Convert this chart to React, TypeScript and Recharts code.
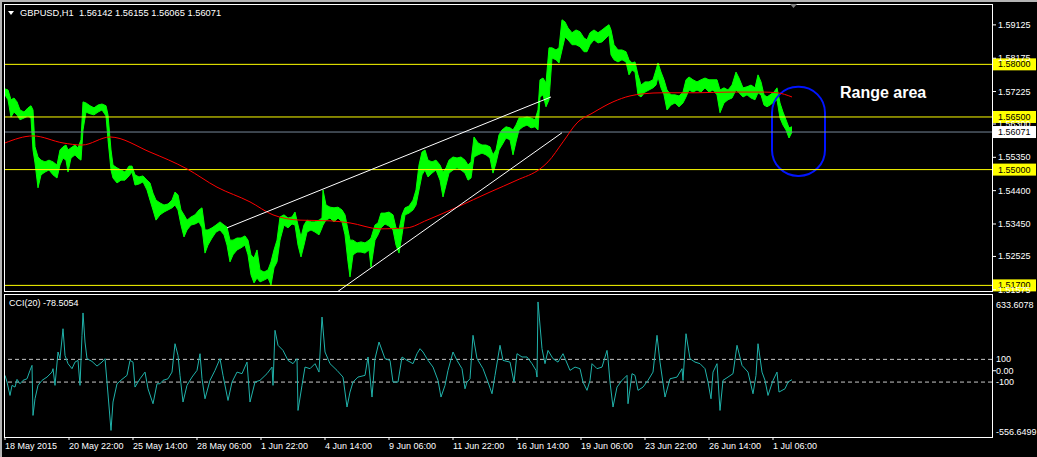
import React from 'react';
import { ComposedChart, Area, Line, XAxis, YAxis, ReferenceLine, ReferenceArea } from 'recharts';

const FONT = '"Liberation Sans", Arial, sans-serif';

const TITLE = 'GBPUSD,H1  1.56142 1.56155 1.56065 1.56071';
const CCI_TITLE = 'CCI(20) -78.5054';
const NOTE = 'Range area';

// one bar per hour, index 0 = 18 May 2015
const TIME_TICKS = [0, 64, 128, 192, 256, 320, 384, 448, 512, 576, 640, 704, 768];
const TIME_LABELS = [
  '18 May 2015', '20 May 22:00', '25 May 14:00', '28 May 06:00', '1 Jun 22:00', '4 Jun 14:00',
  '9 Jun 06:00', '11 Jun 22:00', '16 Jun 14:00', '19 Jun 06:00', '23 Jun 22:00', '26 Jun 14:00', '1 Jul 06:00',
];

const PRICE_TICKS = [1.59125, 1.58175, 1.57225, 1.563, 1.5535, 1.544, 1.5345, 1.52525, 1.51575];
const LEVELS = [1.58, 1.565, 1.55, 1.517];
const LAST_PRICE = 1.56071;

const CCI_TICKS = [633.6078, 100, 0, -100, -556.6499];
const CCI_LEVELS = [100, -100];

// [bar index, high, low]
const PRICE_BARS: [number, number, number][] = [
  [0, 1.5730, 1.5713], [3, 1.5727, 1.5699], [6, 1.5699, 1.5650], [9, 1.5704, 1.5664], [12, 1.5693, 1.5656],
  [15, 1.5670, 1.5642], [19, 1.5664, 1.5647], [23, 1.5676, 1.5653], [26, 1.5682, 1.5647], [28, 1.5670, 1.5556],
  [30, 1.5565, 1.5519], [33, 1.5536, 1.5448], [36, 1.5527, 1.5485], [40, 1.5522, 1.5493], [44, 1.5527, 1.5499],
  [48, 1.5522, 1.5485], [52, 1.5513, 1.5476], [55, 1.5556, 1.5513], [58, 1.5565, 1.5533], [61, 1.5570, 1.5527],
  [63, 1.5556, 1.5493], [66, 1.5562, 1.5533], [70, 1.5570, 1.5542], [73, 1.5562, 1.5533], [76, 1.5585, 1.5527],
  [78, 1.5693, 1.5613], [81, 1.5690, 1.5664], [85, 1.5682, 1.5659], [89, 1.5676, 1.5656], [93, 1.5684, 1.5664],
  [97, 1.5687, 1.5670], [101, 1.5682, 1.5653], [103, 1.5656, 1.5585], [106, 1.5556, 1.5499], [108, 1.5513, 1.5476],
  [112, 1.5505, 1.5462], [116, 1.5499, 1.5470], [120, 1.5493, 1.5470], [124, 1.5510, 1.5482], [127, 1.5510, 1.5493],
  [130, 1.5485, 1.5456], [134, 1.5479, 1.5459], [138, 1.5482, 1.5465], [142, 1.5470, 1.5442], [145, 1.5462, 1.5413],
  [148, 1.5433, 1.5385], [151, 1.5413, 1.5356], [155, 1.5405, 1.5371], [159, 1.5399, 1.5379], [163, 1.5402, 1.5385],
  [167, 1.5413, 1.5391], [170, 1.5436, 1.5399], [173, 1.5428, 1.5385], [176, 1.5385, 1.5342], [179, 1.5371, 1.5308],
  [182, 1.5356, 1.5328], [186, 1.5365, 1.5342], [190, 1.5371, 1.5345], [194, 1.5385, 1.5351], [197, 1.5391, 1.5334],
  [200, 1.5328, 1.5262], [203, 1.5328, 1.5285], [207, 1.5334, 1.5305], [211, 1.5342, 1.5322], [215, 1.5351, 1.5328],
  [219, 1.5342, 1.5314], [222, 1.5336, 1.5285], [225, 1.5299, 1.5237], [228, 1.5299, 1.5257], [232, 1.5305, 1.5271],
  [236, 1.5305, 1.5277], [240, 1.5311, 1.5285], [243, 1.5299, 1.5257], [246, 1.5257, 1.5200], [249, 1.5248, 1.5177],
  [252, 1.5271, 1.5191], [255, 1.5214, 1.5180], [259, 1.5208, 1.5185], [263, 1.5214, 1.5191], [266, 1.5237, 1.5171],
  [269, 1.5271, 1.5220], [272, 1.5299, 1.5237], [275, 1.5365, 1.5299], [279, 1.5371, 1.5342], [283, 1.5362, 1.5334],
  [287, 1.5365, 1.5345], [290, 1.5379, 1.5342], [293, 1.5342, 1.5285], [296, 1.5308, 1.5251], [299, 1.5342, 1.5285],
  [302, 1.5356, 1.5322], [306, 1.5351, 1.5328], [310, 1.5351, 1.5322], [314, 1.5356, 1.5314], [317, 1.5362, 1.5334],
  [318, 1.5442, 1.5342], [321, 1.5399, 1.5356], [325, 1.5393, 1.5362], [329, 1.5391, 1.5351], [333, 1.5393, 1.5362],
  [337, 1.5385, 1.5351], [340, 1.5371, 1.5314], [343, 1.5328, 1.5237], [345, 1.5299, 1.5194], [348, 1.5299, 1.5257],
  [352, 1.5291, 1.5265], [356, 1.5294, 1.5265], [360, 1.5291, 1.5262], [364, 1.5299, 1.5271], [366, 1.5305, 1.5222],
  [370, 1.5342, 1.5299], [373, 1.5348, 1.5314], [376, 1.5376, 1.5334], [380, 1.5376, 1.5345], [384, 1.5379, 1.5339],
  [388, 1.5371, 1.5328], [391, 1.5334, 1.5285], [394, 1.5328, 1.5262], [397, 1.5371, 1.5314], [400, 1.5391, 1.5371],
  [404, 1.5396, 1.5376], [408, 1.5413, 1.5385], [411, 1.5442, 1.5399], [414, 1.5513, 1.5442], [417, 1.5550, 1.5485],
  [420, 1.5556, 1.5499], [423, 1.5527, 1.5479], [427, 1.5522, 1.5490], [431, 1.5527, 1.5499], [435, 1.5513, 1.5470],
  [438, 1.5493, 1.5422], [441, 1.5505, 1.5456], [444, 1.5527, 1.5490], [448, 1.5536, 1.5499], [452, 1.5533, 1.5505],
  [456, 1.5536, 1.5499], [460, 1.5527, 1.5490], [463, 1.5513, 1.5470], [466, 1.5522, 1.5476], [469, 1.5593, 1.5536],
  [473, 1.5576, 1.5542], [477, 1.5570, 1.5547], [481, 1.5570, 1.5542], [485, 1.5565, 1.5533], [488, 1.5542, 1.5490],
  [491, 1.5556, 1.5519], [494, 1.5599, 1.5556], [497, 1.5613, 1.5570], [501, 1.5622, 1.5590], [505, 1.5619, 1.5585],
  [508, 1.5613, 1.5542], [511, 1.5627, 1.5579], [514, 1.5647, 1.5613], [518, 1.5647, 1.5622], [522, 1.5650, 1.5627],
  [526, 1.5647, 1.5619], [530, 1.5642, 1.5622], [533, 1.5670, 1.5613], [535, 1.5756, 1.5707], [538, 1.5761, 1.5713],
  [541, 1.5747, 1.5679], [544, 1.5847, 1.5699], [547, 1.5847, 1.5818], [551, 1.5841, 1.5813], [554, 1.5847, 1.5804],
  [557, 1.5927, 1.5841], [560, 1.5921, 1.5878], [563, 1.5904, 1.5870], [567, 1.5890, 1.5856], [571, 1.5898, 1.5856],
  [575, 1.5893, 1.5850], [579, 1.5875, 1.5836], [582, 1.5870, 1.5836], [585, 1.5890, 1.5856], [589, 1.5898, 1.5870],
  [593, 1.5890, 1.5861], [597, 1.5898, 1.5864], [601, 1.5907, 1.5875], [604, 1.5913, 1.5884], [606, 1.5898, 1.5827],
  [609, 1.5856, 1.5813], [613, 1.5841, 1.5807], [617, 1.5841, 1.5813], [621, 1.5836, 1.5807], [624, 1.5813, 1.5770],
  [627, 1.5804, 1.5784], [630, 1.5807, 1.5778], [633, 1.5770, 1.5713], [636, 1.5741, 1.5707], [640, 1.5750, 1.5721],
  [644, 1.5750, 1.5727], [648, 1.5756, 1.5733], [651, 1.5784, 1.5741], [653, 1.5804, 1.5764], [656, 1.5778, 1.5733],
  [659, 1.5756, 1.5713], [662, 1.5727, 1.5670], [666, 1.5713, 1.5684], [670, 1.5713, 1.5690], [674, 1.5710, 1.5679],
  [678, 1.5721, 1.5690], [681, 1.5756, 1.5707], [684, 1.5764, 1.5727], [688, 1.5756, 1.5721], [692, 1.5750, 1.5727],
  [696, 1.5756, 1.5721], [700, 1.5761, 1.5733], [704, 1.5756, 1.5721], [708, 1.5756, 1.5727], [712, 1.5756, 1.5713],
  [715, 1.5727, 1.5662], [719, 1.5733, 1.5690], [723, 1.5727, 1.5699], [727, 1.5741, 1.5704], [731, 1.5778, 1.5727],
  [734, 1.5761, 1.5719], [738, 1.5733, 1.5707], [742, 1.5736, 1.5713], [746, 1.5741, 1.5704], [750, 1.5733, 1.5699],
  [753, 1.5770, 1.5719], [756, 1.5750, 1.5713], [759, 1.5713, 1.5684], [762, 1.5707, 1.5679], [765, 1.5713, 1.5684],
  [769, 1.5721, 1.5693], [772, 1.5733, 1.5699], [775, 1.5690, 1.5647], [778, 1.5664, 1.5627], [781, 1.5642, 1.5613],
  [784, 1.5619, 1.5590], [787, 1.5622, 1.5607],
];

// moving average (red)
const MA_POINTS: [number, number][] = [
  [0, 1.5576], [28, 1.5596], [58, 1.5576], [77, 1.5570], [105, 1.5593], [145, 1.5550], [182, 1.5502],
  [212, 1.5450], [245, 1.5408], [268, 1.5371], [295, 1.5356], [325, 1.5354], [345, 1.5348], [375, 1.5331],
  [402, 1.5334], [422, 1.5356], [452, 1.5393], [485, 1.5436], [512, 1.5470], [535, 1.5502], [543, 1.5522],
  [558, 1.5579], [572, 1.5633], [588, 1.5662], [608, 1.5693], [625, 1.5710], [638, 1.5716], [658, 1.5719],
  [692, 1.5719], [725, 1.5721], [758, 1.5721], [772, 1.5719], [787, 1.5707],
];

// trend lines: [index, price] start and end
const UPPER_TREND: [number, number][] = [[222, 1.5334], [546, 1.5707]];
const LOWER_TREND: [number, number][] = [[332, 1.5151], [557, 1.5605]];
// marked range box: index from/to, price from/to
const RANGE_BOX = { x1: 767, x2: 820, y1: 1.5482, y2: 1.5736 };

const CCI_POINTS: [number, number][] = [
  [0, -41], [2, -100], [5, -218], [7, -129], [10, -144], [12, -76], [15, -115], [18, -85], [22, -71], [25, 3],
  [27, 47], [28, -394], [30, -247], [33, -129], [37, -85], [42, -56], [47, -12], [48, 18], [50, -129], [53, 165],
  [55, 106], [58, 370], [60, 135], [63, 62], [67, 18], [70, 76], [73, 91], [75, -129], [77, 312], [78, 509],
  [80, 253], [82, 106], [87, 82], [92, 41], [97, 76], [100, 106], [102, -100], [106, -526], [108, -276], [112, -115],
  [117, -76], [122, -41], [125, 91], [128, 76], [130, -144], [135, -71], [140, -12], [143, -159], [148, -291], [152, -115],
  [155, -115], [158, -85], [163, -71], [167, -12], [170, 238], [173, 135], [175, -41], [178, -276], [182, -129], [187, -56],
  [192, 3], [195, 150], [197, -71], [200, -247], [205, -85], [210, 3], [215, 106], [218, -41], [223, -262], [227, -100],
  [232, -12], [237, -26], [242, 76], [245, -276], [250, -100], [255, -85], [262, -26], [267, 32], [268, -129], [270, 356],
  [273, 224], [278, 179], [283, 91], [288, 62], [292, 106], [293, -350], [297, -129], [300, 32], [305, 18], [310, 62],
  [314, -12], [317, 473], [320, 165], [325, 62], [332, 3], [338, -56], [342, -320], [345, -188], [348, -100], [353, -56],
  [360, -41], [363, 121], [367, -232], [370, 106], [374, 253], [380, 106], [385, 91], [388, -100], [393, -100], [397, 121],
  [402, 91], [408, 62], [412, 150], [415, 194], [418, 165], [423, 91], [428, 32], [433, -85], [436, -232], [440, -129],
  [443, 3], [448, 165], [452, 91], [457, 18], [460, -159], [462, -100], [465, -71], [468, 312], [472, 106], [478, 18],
  [483, -100], [487, -203], [490, -41], [495, 224], [498, 91], [505, 76], [509, -100], [512, 150], [517, 121], [522, 121],
  [527, 62], [531, 3], [532, -56], [533, 606], [537, 194], [540, 62], [543, 179], [548, 106], [553, 76], [558, 150],
  [565, 3], [570, 32], [575, 18], [578, -100], [582, -173], [585, -85], [587, 62], [592, 18], [597, 32], [602, 179],
  [603, 106], [605, -100], [608, -320], [612, -144], [617, -85], [622, -41], [623, -291], [627, -26], [630, -41], [633, -173],
  [638, -144], [643, -85], [648, -12], [652, 312], [655, 76], [660, -232], [665, -71], [672, -56], [677, 18], [678, -85],
  [681, 326], [685, 106], [690, 76], [695, 62], [700, 18], [703, -100], [706, -247], [708, -12], [712, 62], [715, -350],
  [718, -85], [723, -56], [728, -26], [732, 224], [737, 47], [743, -12], [748, -203], [751, -41], [753, 238], [757, -12],
  [760, -85], [763, -218], [768, -85], [772, -12], [774, -188], [780, -159], [783, -100], [787, -78.5],
];

const X_DOMAIN = [-1, 987];
const PRICE_DOMAIN = [1.5154, 1.5972];
const CCI_DOMAIN = [-584, 676];

const priceRows = PRICE_BARS.map(([i, hi, lo]) => ({ i, range: [lo, hi] }));
const maRows = MA_POINTS.map(([i, v]) => ({ i, v }));
const cciRows = CCI_POINTS.map(([i, v]) => ({ i, v }));

const PriceTick = (props: any) => {
  const { x, y, payload } = props;
  return (
    <text x={x} y={y} dominantBaseline="central" fill="#fff" fontSize={9} fontFamily={FONT}>
      {Number(payload.value).toFixed(5)}
    </text>
  );
};

const CciTick = (props: any) => {
  const { x, y, payload } = props;
  const v = Number(payload.value);
  let txt = v.toFixed(0);
  if (v === 0) txt = '0.00';
  if (Math.abs(v) > 500) txt = v.toFixed(4);
  const dy = v > 500 ? 6 : v < -500 ? -2 : 0;
  return (
    <g>
      {v === 0 && <line x1={x - 6} x2={x - 2} y1={y} y2={y} stroke="#fff" />}
      <text x={x - 2} y={y + dy} dominantBaseline="central" fill="#fff" fontSize={9} fontFamily={FONT}>
        {txt}
      </text>
    </g>
  );
};

const TimeTick = (props: any) => {
  const { x, y, index } = props;
  return (
    <text x={x} y={y + 7} fill="#fff" fontSize={9} fontFamily={FONT}>
      {TIME_LABELS[index]}
    </text>
  );
};

const levelLabel = (value: number, bg: string) => (props: any) => {
  const vb = props.viewBox;
  const right = vb.x + vb.width;
  return (
    <g>
      <rect x={right + 1} y={vb.y - 6} width={43} height={12} fill={bg} />
      <text x={right + 6} y={vb.y} dominantBaseline="central" fill="#000" fontSize={9} fontFamily={FONT}>
        {value.toFixed(5)}
      </text>
    </g>
  );
};

const RoundBox = (props: any) => {
  const { x, y, width, height } = props;
  return <rect x={x} y={y} width={width} height={height} rx={26} ry={26} fill="none" stroke="#0014ff" strokeWidth={2} />;
};

export default function App() {
  return (
    <div style={{ position: 'absolute', left: 0, top: 0, width: 1037, height: 457, background: '#000', overflow: 'hidden' }}>
      {/* window frame */}
      <div style={{ position: 'absolute', left: 0, top: 0, width: 1037, height: 2, background: '#b4b4b4' }} />
      <div style={{ position: 'absolute', left: 0, top: 0, width: 2, height: 457, background: '#b4b4b4' }} />

      {/* price panel */}
      <div style={{ position: 'absolute', left: 0, top: 0 }}>
        <ComposedChart width={1037} height={300} margin={{ top: 4, right: 0, bottom: 9, left: 4 }}>
          <XAxis dataKey="i" type="number" domain={X_DOMAIN} allowDataOverflow hide />
          <YAxis
            orientation="right"
            width={45}
            type="number"
            domain={PRICE_DOMAIN}
            allowDataOverflow
            ticks={PRICE_TICKS}
            interval={0}
            axisLine={false}
            tickLine={{ stroke: '#fff' }}
            tickSize={4}
            tickMargin={2}
            tick={<PriceTick />}
          />
          {LEVELS.map((lv) => (
            <ReferenceLine key={lv} y={lv} stroke="#ffff00" strokeWidth={1} label={levelLabel(lv, '#ffff00')} />
          ))}
          <ReferenceLine y={LAST_PRICE} stroke="#778899" strokeWidth={1} label={levelLabel(LAST_PRICE, '#ffffff')} />
          <Area
            data={priceRows}
            dataKey="range"
            type="linear"
            stroke="#00ff00"
            strokeWidth={1}
            fill="#00ff00"
            fillOpacity={1}
            dot={false}
            activeDot={false}
            isAnimationActive={false}
          />
          <Line data={maRows} dataKey="v" type="monotone" stroke="#ff0000" strokeWidth={1} dot={false} activeDot={false} isAnimationActive={false} />
          <ReferenceLine
            segment={UPPER_TREND.map(([x, y]) => ({ x, y }))}
            stroke="#ffffff"
            strokeWidth={1}
            ifOverflow="hidden"
          />
          <ReferenceLine
            segment={LOWER_TREND.map(([x, y]) => ({ x, y }))}
            stroke="#ffffff"
            strokeWidth={1}
            ifOverflow="hidden"
          />
          <ReferenceArea
            x1={RANGE_BOX.x1}
            x2={RANGE_BOX.x2}
            y1={RANGE_BOX.y1}
            y2={RANGE_BOX.y2}
            ifOverflow="visible"
            shape={<RoundBox />}
          />
        </ComposedChart>
      </div>

      {/* indicator panel */}
      <div style={{ position: 'absolute', left: 0, top: 290 }}>
        <ComposedChart width={1037} height={167} margin={{ top: 4, right: 0, bottom: 0, left: 4 }}>
          <XAxis
            dataKey="i"
            type="number"
            domain={X_DOMAIN}
            allowDataOverflow
            ticks={TIME_TICKS}
            interval={0}
            height={20}
            axisLine={false}
            tickLine={{ stroke: '#fff' }}
            tickSize={3}
            tickMargin={2}
            tick={<TimeTick />}
          />
          <YAxis
            orientation="right"
            width={45}
            type="number"
            domain={CCI_DOMAIN}
            allowDataOverflow
            ticks={CCI_TICKS}
            interval={0}
            axisLine={false}
            tickLine={false}
            tickSize={4}
            tickMargin={2}
            tick={<CciTick />}
          />
          {CCI_LEVELS.map((lv) => (
            <ReferenceLine key={lv} y={lv} stroke="#c8c8c8" strokeDasharray="4 3" />
          ))}
          <Line data={cciRows} dataKey="v" type="linear" stroke="#20b2aa" strokeWidth={1} dot={false} activeDot={false} isAnimationActive={false} />
        </ComposedChart>
      </div>

      {/* panel borders */}
      <div style={{ position: 'absolute', left: 4, top: 4, width: 989, height: 288, border: '1px solid #fff', boxSizing: 'border-box', pointerEvents: 'none' }} />
      <div style={{ position: 'absolute', left: 4, top: 294, width: 989, height: 144, border: '1px solid #fff', boxSizing: 'border-box', pointerEvents: 'none' }} />

      {/* titles */}
      <svg style={{ position: 'absolute', left: 0, top: 0 }} width={1037} height={457} pointerEvents="none">
        <polygon points="8,11 14,11 11,15" fill="#fff" />
        <polygon points="790,4 797,4 793.5,8" fill="#808080" />
        <text x={20} y={16} fill="#fff" fontSize={9.3} fontFamily={FONT} xmlSpace="preserve">{TITLE}</text>
        <text x={9} y={306} fill="#fff" fontSize={9} fontFamily={FONT}>{CCI_TITLE}</text>
        <text x={840} y={98} fill="#fff" fontSize={16} fontWeight="bold" fontFamily={FONT}>{NOTE}</text>
      </svg>
    </div>
  );
}
